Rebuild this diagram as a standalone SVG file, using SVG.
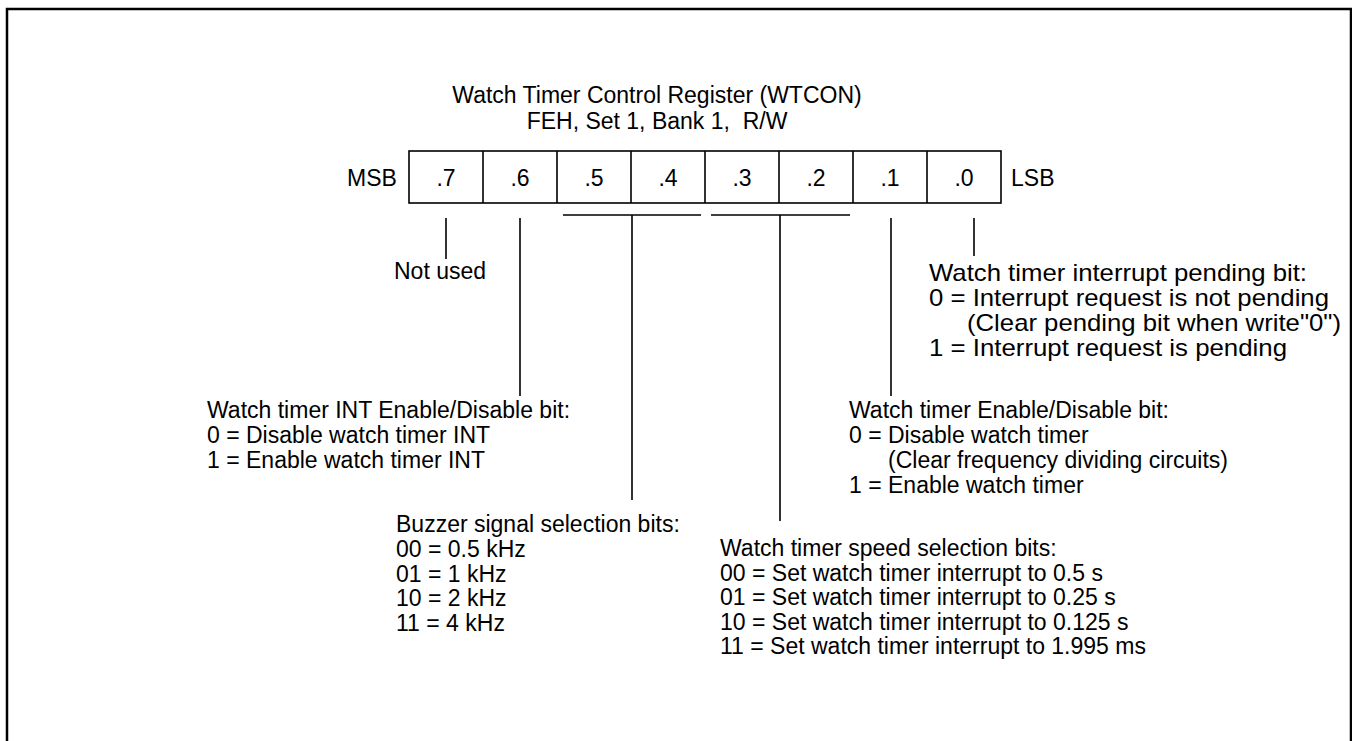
<svg xmlns="http://www.w3.org/2000/svg" width="1352" height="741" viewBox="0 0 1352 741">
<style>
text{font-family:"Liberation Sans",Arial,sans-serif;font-size:23px;fill:#000}
.c{text-anchor:middle}
.big{font-size:24px}
.ln{stroke:#000;stroke-width:1.6;fill:none}
.cell{stroke:#000;stroke-width:1.6;fill:#fff}
</style>
<rect width="1352" height="741" fill="#fff"/>
<path d="M7 745 V9 H1351 V745" fill="none" stroke="#000" stroke-width="2.5"/>
<g id="title">
<text class="c" x="657" y="103">Watch Timer Control Register (WTCON)</text>
<text class="c" x="657" y="129" xml:space="preserve">FEH, Set 1, Bank 1,  R/W</text>
</g>
<g id="register">
<rect class="cell" x="409" y="151" width="592" height="52"/>
<path class="ln" d="M483 151V203M557 151V203M631 151V203M705 151V203M779 151V203M853 151V203M927 151V203"/>
<text x="347" y="186">MSB</text>
<text class="c" x="446" y="186">.7</text>
<text class="c" x="520" y="186">.6</text>
<text class="c" x="594" y="186">.5</text>
<text class="c" x="668" y="186">.4</text>
<text class="c" x="742" y="186">.3</text>
<text class="c" x="816" y="186">.2</text>
<text class="c" x="890" y="186">.1</text>
<text class="c" x="964" y="186">.0</text>
<text x="1011" y="186">LSB</text>
</g>
<g id="connectors">
<path class="ln" d="M446 218V259"/>
<path class="ln" d="M520 218V396"/>
<path class="ln" d="M563 215H701M632 215V500"/>
<path class="ln" d="M711 215H850M780 215V521"/>
<path class="ln" d="M891 218V396"/>
<path class="ln" d="M974 218V256"/>
</g>
<g id="bit7"><text x="394" y="279">Not used</text></g>
<g id="bit0">
<text class="big" x="929" y="281" textLength="378" lengthAdjust="spacingAndGlyphs">Watch timer interrupt pending bit:</text>
<text class="big" x="929" y="306" textLength="400" lengthAdjust="spacingAndGlyphs">0 = Interrupt request is not pending</text>
<text class="big" x="967" y="331" textLength="374" lengthAdjust="spacingAndGlyphs">(Clear pending bit when write"0")</text>
<text class="big" x="929" y="356" textLength="358" lengthAdjust="spacingAndGlyphs">1 = Interrupt request is pending</text>
</g>
<g id="bit6">
<text x="207" y="418">Watch timer INT Enable/Disable bit:</text>
<text x="207" y="443">0 = Disable watch timer INT</text>
<text x="207" y="468">1 = Enable watch timer INT</text>
</g>
<g id="bit1">
<text x="849" y="418">Watch timer Enable/Disable bit:</text>
<text x="849" y="443">0 = Disable watch timer</text>
<text x="888" y="468">(Clear frequency dividing circuits)</text>
<text x="849" y="493">1 = Enable watch timer</text>
</g>
<g id="bit54">
<text x="396" y="532">Buzzer signal selection bits:</text>
<text x="396" y="557">00 = 0.5 kHz</text>
<text x="396" y="582">01 = 1 kHz</text>
<text x="396" y="606">10 = 2 kHz</text>
<text x="396" y="631">11 = 4 kHz</text>
</g>
<g id="bit32">
<text x="720" y="556">Watch timer speed selection bits:</text>
<text x="720" y="581">00 = Set watch timer interrupt to 0.5 s</text>
<text x="720" y="605">01 = Set watch timer interrupt to 0.25 s</text>
<text x="720" y="630">10 = Set watch timer interrupt to 0.125 s</text>
<text x="720" y="654">11 = Set watch timer interrupt to 1.995 ms</text>
</g>
</svg>
